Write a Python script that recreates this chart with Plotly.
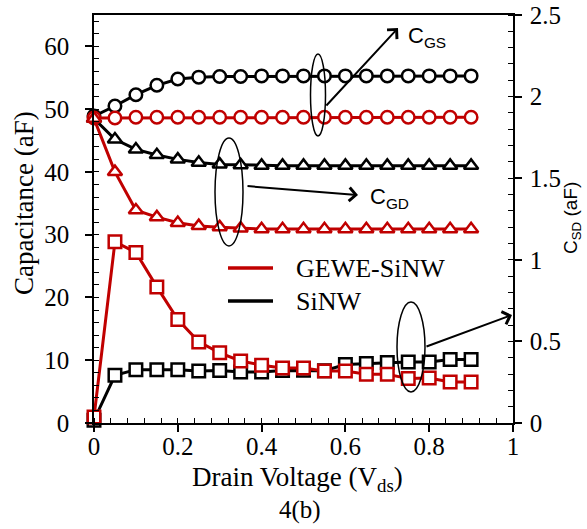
import plotly.graph_objects as go

# ---------------- data ----------------
vds = [0.0, 0.05, 0.1, 0.15, 0.2, 0.25, 0.3, 0.35, 0.4, 0.45,
       0.5, 0.55, 0.6, 0.65, 0.7, 0.75, 0.8, 0.85, 0.9]

cgs_sinw = [48.9, 50.5, 52.3, 53.8, 54.8, 55.1, 55.2, 55.2, 55.3, 55.3,
            55.3, 55.3, 55.3, 55.3, 55.3, 55.3, 55.3, 55.3, 55.3]
cgs_gewe = [48.6, 48.6, 48.7, 48.7, 48.7, 48.7, 48.7, 48.7, 48.7, 48.7,
            48.7, 48.7, 48.7, 48.7, 48.7, 48.7, 48.7, 48.7, 48.7]
cgd_sinw = [48.5, 45.2, 43.6, 42.7, 42.0, 41.5, 41.2, 41.1, 41.0, 41.0,
            41.0, 41.0, 41.0, 41.0, 41.0, 41.0, 41.0, 41.0, 41.0]
cgd_gewe = [48.5, 40.0, 33.9, 32.8, 31.9, 31.4, 31.2, 31.0, 30.9, 30.9,
            30.9, 30.9, 30.9, 30.9, 30.9, 30.9, 30.9, 30.9, 30.9]
csd_sinw = [0.017, 0.292, 0.327, 0.327, 0.327, 0.319, 0.322, 0.313, 0.313, 0.322,
            0.323, 0.320, 0.358, 0.364, 0.370, 0.374, 0.374, 0.389, 0.389]
csd_gewe = [0.037, 1.11, 1.045, 0.834, 0.634, 0.497, 0.430, 0.380, 0.354, 0.337,
            0.337, 0.319, 0.319, 0.299, 0.299, 0.272, 0.276, 0.251, 0.251]

legend_names = ["GEWE-SiNW", "SiNW"]
legend_colors = ["#C00000", "#000000"]
x_ticks = [0, 0.2, 0.4, 0.6, 0.8, 1]
x_ticktext = ["0", "0.2", "0.4", "0.6", "0.8", "1"]
y_ticks = [0, 10, 20, 30, 40, 50, 60]
y2_ticks = [0, 0.5, 1, 1.5, 2, 2.5]
y2_ticktext = ["0", "0.5", "1", "1.5", "2", "2.5"]

RED = "#C00000"
BLACK = "#000000"
SERIF = "Liberation Serif, Times New Roman, serif"
SANS = "Liberation Sans, Arial, sans-serif"

# plot-area geometry (pixels) used to place the decorative annotations
W, H = 587, 529
ML, MR, MT, MB = 94, 74, 15, 106
PW, PH = W - ML - MR, H - MT - MB
YMAX, Y2MAX = 65, 2.5


def px2x(p):
    return (p - ML) / PW


def py2y(p):
    return (H - MB - p) / PH * YMAX


def py2paper(p):
    return (H - MB - p) / PH


fig = go.Figure()


def add(y, color, symbol, name, yaxis="y"):
    fig.add_trace(go.Scatter(
        x=vds, y=y, mode="lines+markers", yaxis=yaxis, showlegend=False,
        cliponaxis=False, name=name,
        line=dict(color=color, width=3),
        marker=dict(symbol=symbol, size=12.5, color="white",
                    line=dict(color=color, width=2.5)),
    ))


add(cgs_sinw, BLACK, "circle", "SiNW C_GS")
add(cgd_sinw, BLACK, "triangle-up", "SiNW C_GD")
add(csd_sinw, BLACK, "square", "SiNW C_SD", "y2")
add(cgs_gewe, RED, "circle", "GEWE-SiNW C_GS")
add(cgd_gewe, RED, "triangle-up", "GEWE-SiNW C_GD")
add(csd_gewe, RED, "square", "GEWE-SiNW C_SD", "y2")

shapes = []
annotations = []

# legend (line samples + labels)
for i, (nm, col) in enumerate(zip(legend_names, legend_colors)):
    yy = 268 + i * 33
    shapes.append(dict(type="line", xref="paper", yref="paper",
                       x0=px2x(228), x1=px2x(273), y0=py2paper(yy), y1=py2paper(yy),
                       line=dict(color=col, width=3.5)))
    annotations.append(dict(x=px2x(294), y=py2paper(yy), xref="paper", yref="paper",
                            text=nm, showarrow=False, xanchor="left", yanchor="middle",
                            font=dict(family=SERIF, size=26, color=BLACK)))

# ellipses
for cx, cy, hw, hh in [(318, 95, 7.5, 41), (229, 192, 14, 54), (411, 347, 14, 45)]:
    shapes.append(dict(type="circle", xref="x", yref="y",
                       x0=px2x(cx - hw), x1=px2x(cx + hw),
                       y0=py2y(cy + hh), y1=py2y(cy - hh),
                       line=dict(color=BLACK, width=1.5)))

# arrows: (tail, head)
for (tx, ty), (hx, hy) in [((325, 107), (398, 28)),
                           ((246, 186), (358, 195)),
                           ((425, 347), (512, 315))]:
    annotations.append(dict(x=px2x(hx), y=py2y(hy), ax=px2x(tx), ay=py2y(ty),
                            xref="x", yref="y", axref="x", ayref="y",
                            text="", showarrow=True, arrowhead=4, arrowsize=1.3,
                            arrowwidth=2, arrowcolor=BLACK, standoff=0))

annotations += [
    dict(x=px2x(406), y=py2y(37), xref="x", yref="y", text="C<sub>GS</sub>",
         showarrow=False, xanchor="left", yanchor="middle",
         font=dict(family=SANS, size=22, color=BLACK)),
    dict(x=px2x(368), y=py2y(198), xref="x", yref="y", text="C<sub>GD</sub>",
         showarrow=False, xanchor="left", yanchor="middle",
         font=dict(family=SANS, size=22, color=BLACK)),
    # left y title
    dict(x=px2x(24), y=py2paper(203), xref="paper", yref="paper",
         text="Capacitance (aF)", textangle=-90, showarrow=False,
         xanchor="center", yanchor="middle",
         font=dict(family=SERIF, size=27, color=BLACK)),
    # right y title
    dict(x=px2x(572), y=py2paper(218), xref="paper", yref="paper",
         text="C<sub>SD</sub> (aF)", textangle=-90, showarrow=False,
         xanchor="center", yanchor="middle",
         font=dict(family=SANS, size=19, color=BLACK)),
    # x title
    dict(x=px2x(297), y=py2paper(479), xref="paper", yref="paper",
         text="Drain Voltage (V<sub>ds</sub>)", showarrow=False,
         xanchor="center", yanchor="middle",
         font=dict(family=SERIF, size=27, color=BLACK)),
    # caption
    dict(x=px2x(300), y=py2paper(510), xref="paper", yref="paper",
         text="4(b)", showarrow=False, xanchor="center", yanchor="middle",
         font=dict(family=SERIF, size=25, color=BLACK)),
]

tickfont = dict(family=SERIF, size=25, color=BLACK)

fig.update_layout(
    width=W, height=H,
    margin=dict(l=ML, r=MR, t=MT, b=MB, pad=0, autoexpand=False),
    paper_bgcolor="white", plot_bgcolor="white",
    shapes=shapes, annotations=annotations, showlegend=False,
    xaxis=dict(range=[0, 1], tickvals=x_ticks, ticktext=x_ticktext,
               ticks="outside", ticklen=7, tickwidth=1.5, tickcolor=BLACK,
               showline=True, linecolor=BLACK, linewidth=1.5, mirror=True,
               showgrid=False, zeroline=False, tickfont=tickfont,
               ticklabelstandoff=-7, automargin=False,
               minor=dict(dtick=0.04, ticks="inside", ticklen=5, tickwidth=1.2,
                          tickcolor=BLACK, showgrid=False)),
    yaxis=dict(range=[0, YMAX], tickvals=y_ticks,
               ticks="outside", ticklen=7, tickwidth=1.5, tickcolor=BLACK,
               showline=True, linecolor=BLACK, linewidth=1.5,
               showgrid=False, zeroline=False, tickfont=tickfont,
               ticklabelstandoff=11, automargin=False,
               minor=dict(dtick=2, ticks="inside", ticklen=5, tickwidth=1.2,
                          tickcolor=BLACK, showgrid=False)),
    yaxis2=dict(range=[0, Y2MAX], overlaying="y", side="right",
                tickvals=y2_ticks, ticktext=y2_ticktext,
                ticks="outside", ticklen=7, tickwidth=1.5, tickcolor=BLACK,
                showline=True, linecolor=BLACK, linewidth=1.5,
                showgrid=False, zeroline=False, tickfont=tickfont,
                ticklabelstandoff=3, automargin=False,
                minor=dict(dtick=0.1, ticks="inside", ticklen=5, tickwidth=1.2,
                           tickcolor=BLACK, showgrid=False)),
)

fig.write_html("out.html")
